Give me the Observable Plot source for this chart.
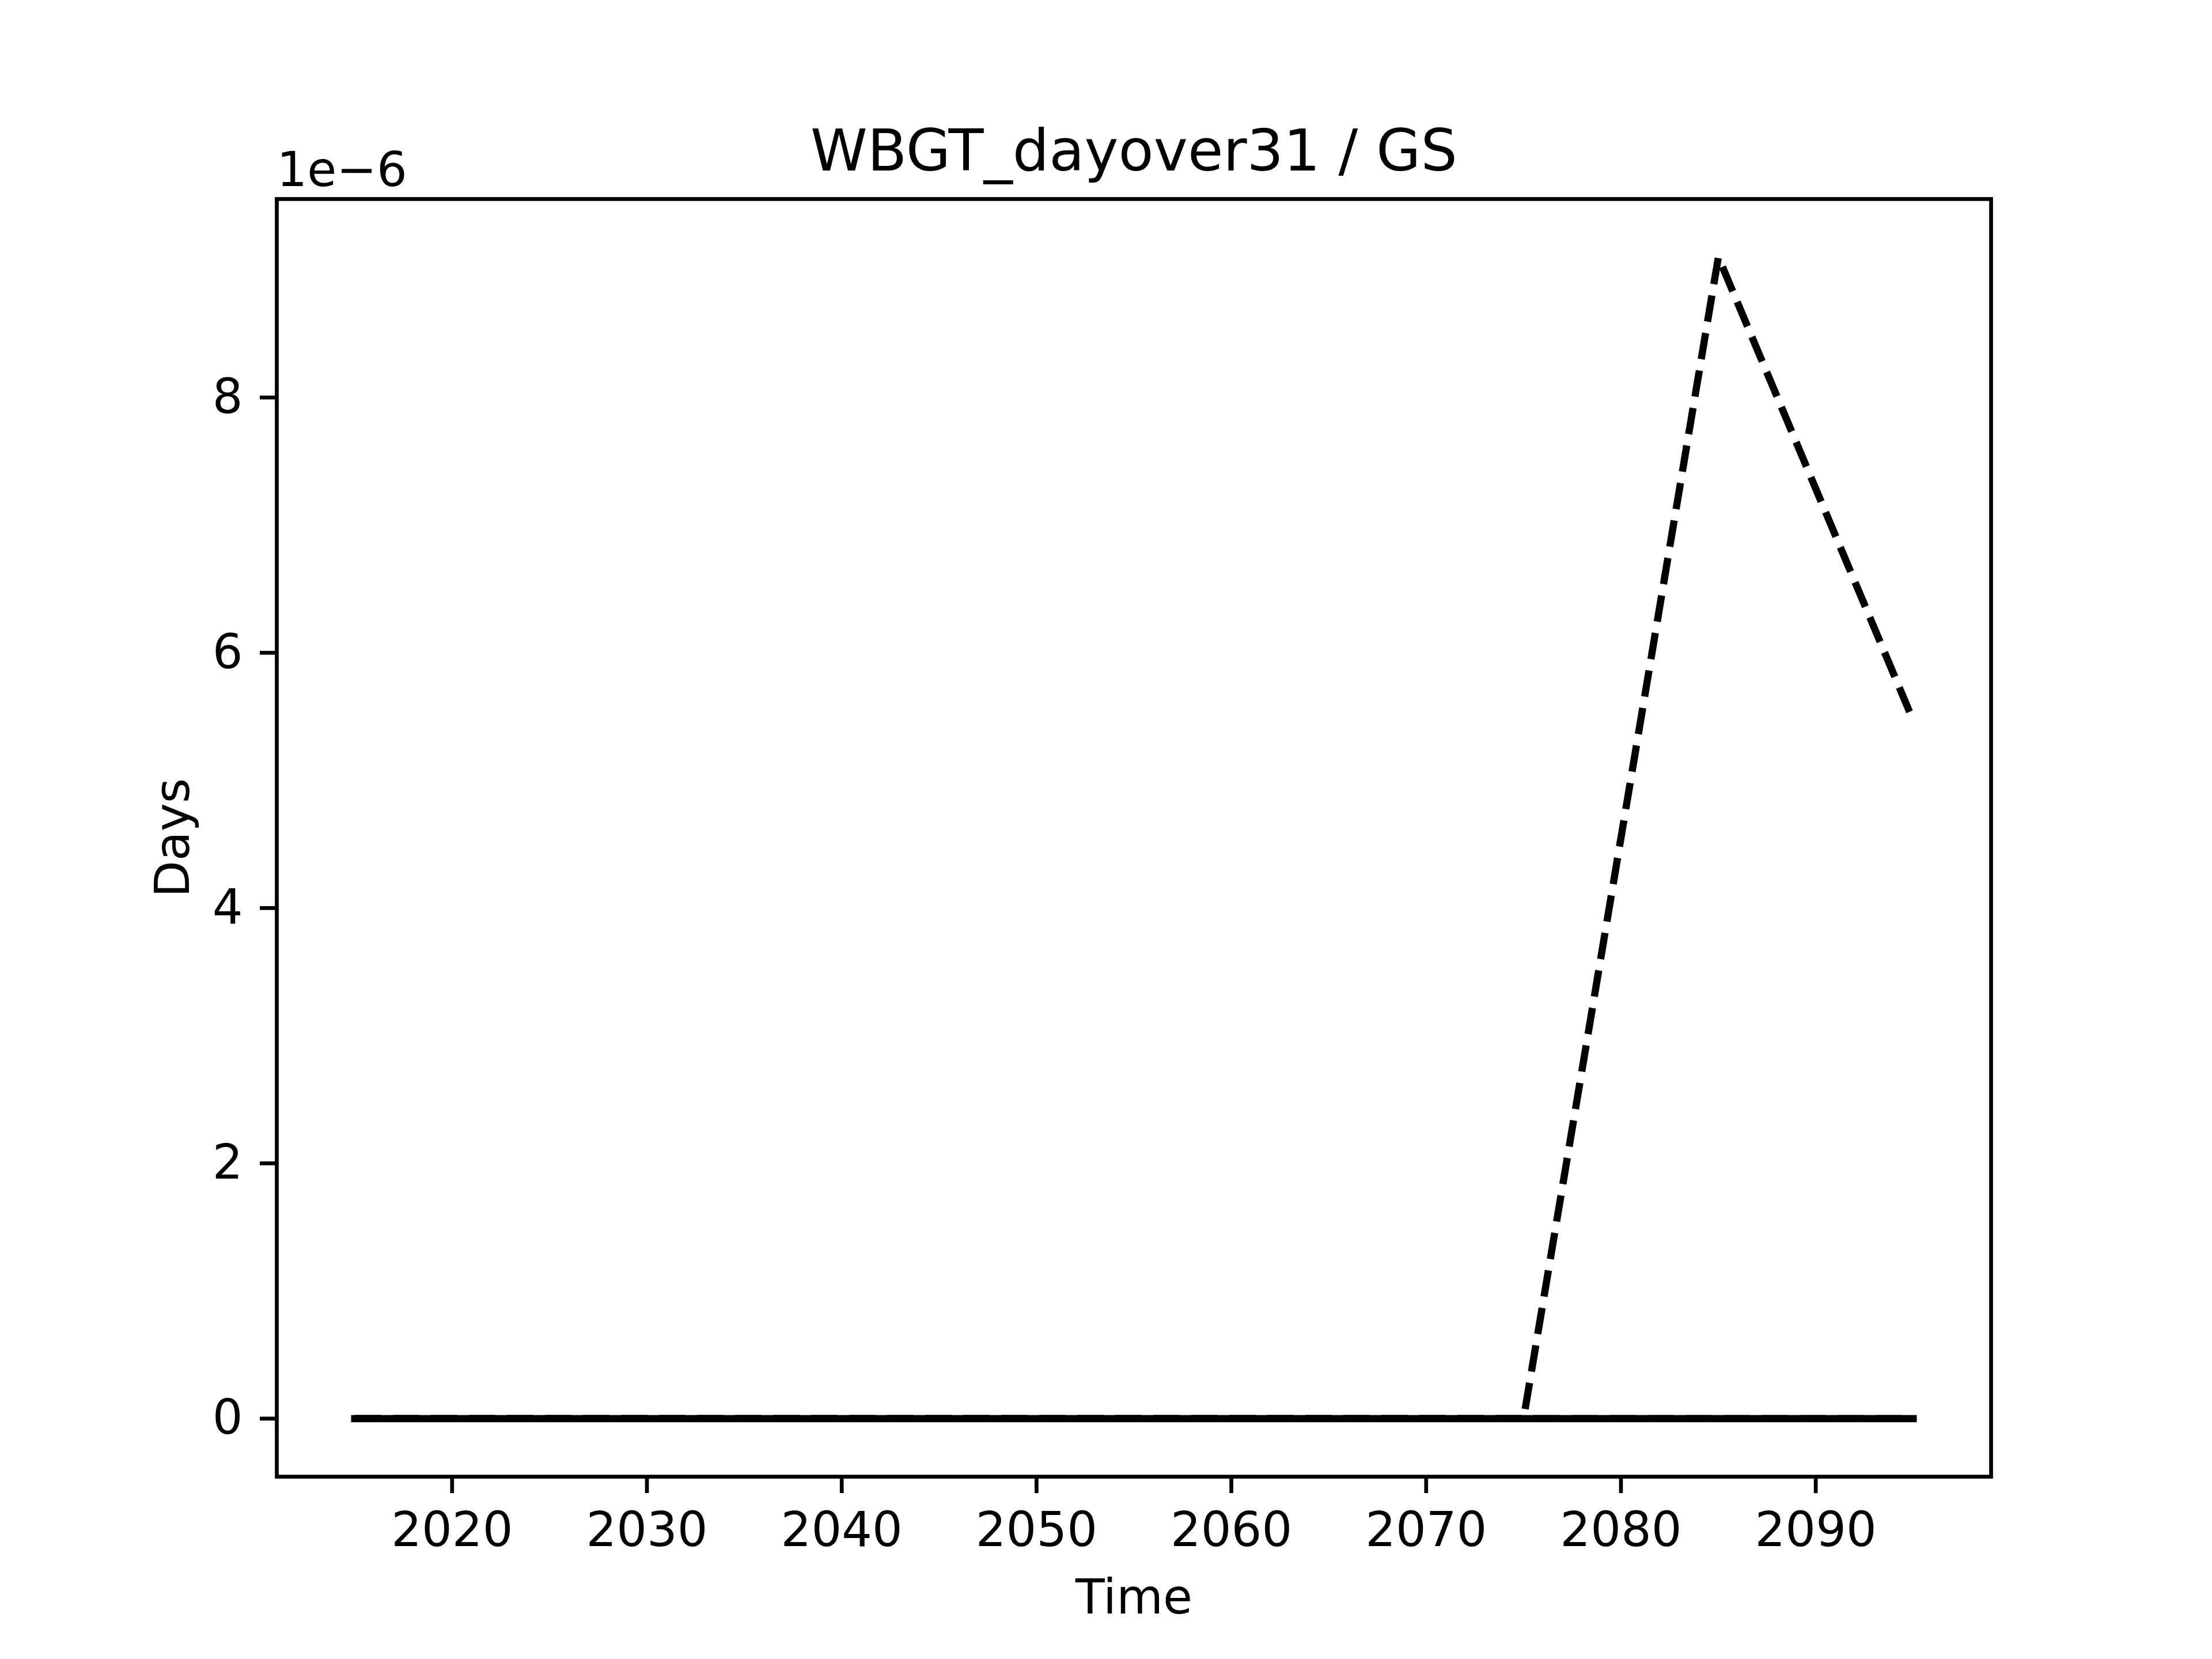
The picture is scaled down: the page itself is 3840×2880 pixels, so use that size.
<!DOCTYPE html>
<html>
<head>
<meta charset="utf-8">
<script src="https://cdn.jsdelivr.net/npm/d3@7"></script>
<script src="https://cdn.jsdelivr.net/npm/@observablehq/plot@0.6"></script>
<style>
  html, body { margin: 0; padding: 0; background: #fff; }
  svg { font-family: "DejaVu Sans", sans-serif; }
</style>
</head>
<body>
<div id="chart"></div>
<script>
// ---- data ----
const years = [2015, 2025, 2035, 2045, 2055, 2065, 2075, 2085, 2095];
const historicalMean = [0, 0, 0, 0, 0, 0, 0, 0, 0];          // solid
const scenarioHigh = [0, 0, 0, 0, 0, 0, 0, 9.1e-6, 5.47e-6]; // dashed
const scenarioLow = [0, 0, 0, 0, 0, 0, 0, 0, 0];             // dashed
const xTicks = [2020, 2030, 2040, 2050, 2060, 2070, 2080, 2090];
const yTicks = [0, 2e-6, 4e-6, 6e-6, 8e-6];
const titleText = "WBGT_dayover31 / GS";
const xLabel = "Time";
const yLabel = "Days";
const offsetText = "1e\u22126";

const toRows = (vals) => years.map((t, i) => ({t, v: vals[i]}));
const solidRows = toRows(historicalMean);
const highRows = toRows(scenarioHigh);
const lowRows = toRows(scenarioLow);

const W = 3840, H = 2880;
const mL = 480, mR = 384, mT = 345, mB = 317;
const lw = 12.5, axw = 6.7, fs = 83;

const chart = Plot.plot({
  width: W,
  height: H,
  marginLeft: mL,
  marginRight: mR,
  marginTop: mT,
  marginBottom: mB,
  style: {background: "#fff", fontFamily: "DejaVu Sans, sans-serif", color: "#000"},
  x: {domain: [2011, 2099]},
  y: {domain: [-0.455e-6, 9.555e-6]},
  marks: [
    Plot.line(lowRows, {x: "t", y: "v", stroke: "#000", strokeWidth: lw, strokeDasharray: "46,20", strokeLinecap: "butt", strokeLinejoin: "round"}),
    Plot.line(highRows, {x: "t", y: "v", stroke: "#000", strokeWidth: lw, strokeDasharray: "46,20", strokeLinecap: "butt", strokeLinejoin: "round"}),
    Plot.line(solidRows, {x: "t", y: "v", stroke: "#000", strokeWidth: lw, strokeLinecap: "square", strokeLinejoin: "round"}),
    Plot.frame({stroke: "#000", strokeWidth: axw}),
    Plot.axisX({ticks: xTicks, tickSize: 29, tickPadding: 33, fontSize: fs, strokeWidth: axw, tickFormat: d => String(d), label: null}),
    Plot.axisY({ticks: yTicks, tickSize: 29, tickPadding: 30, fontSize: fs, strokeWidth: axw, tickFormat: d => String(Math.round(d * 1e6)), label: null}),
    Plot.text([titleText], {frameAnchor: "top", text: d => d, fontSize: 100, textAnchor: "middle", lineAnchor: "bottom", dy: -50, fill: "#000"}),
    Plot.text([offsetText], {frameAnchor: "top-left", text: d => d, fontSize: fs, textAnchor: "start", lineAnchor: "bottom", dy: -23, dx: 0, fill: "#000"}),
    Plot.text([xLabel], {frameAnchor: "bottom", text: d => d, fontSize: fs, textAnchor: "middle", lineAnchor: "bottom", dy: 237, fill: "#000"}),
    Plot.text([yLabel], {frameAnchor: "left", text: d => d, fontSize: fs, textAnchor: "middle", lineAnchor: "bottom", rotate: -90, dx: -153, fill: "#000"})
  ]
});
document.getElementById("chart").appendChild(chart);
</script>
</body>
</html>
